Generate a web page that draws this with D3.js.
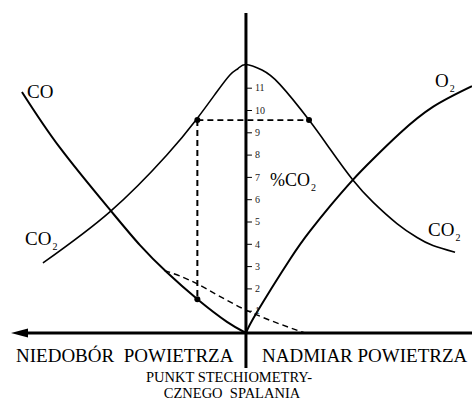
<!DOCTYPE html>
<html><head><meta charset="utf-8">
<script src="https://cdn.jsdelivr.net/npm/d3@7"></script>
<style>
html,body{margin:0;padding:0;background:#fff;overflow:hidden}
svg{display:block;font-family:"Liberation Serif","Times New Roman",serif}
</style></head><body>
<svg id="c" width="472" height="401"></svg>
<script>
// excess-air axis (arbitrary units, 0 = stoichiometric point), gas content in %
const coX  = [-9.91, -8.23, -6.02, -4.69, -3.5, -2.12, -0.84, 0];
const coY  = [10.81, 8.31, 5.53, 3.94, 2.72, 1.49, 0.5, 0];
const co2X = [-8.98, -6.02, -3.5, -2.21, -1.37, -0.71, -0.35, 0, 0.71, 1.5, 2.79, 3.72, 4.73, 5.62, 6.68, 7.57, 8.27, 9.25];
const co2Y = [3.14, 5.43, 7.98, 9.55, 10.7, 11.57, 11.86, 12.04, 11.79, 11.15, 9.55, 8.25, 6.86, 5.87, 4.91, 4.28, 3.92, 3.62];
const o2X  = [0, 0.49, 1.95, 2.83, 3.72, 4.73, 5.58, 6.81, 8.27, 10];
const o2Y  = [0, 0.94, 3.31, 4.57, 5.69, 6.87, 7.76, 8.96, 10.14, 11.07];
const extX = [-3.6, -2.15, 0, 2.61];          // dashed CO extension
const extY = [2.8, 2.2, 1.03, 0];
const markX = [-2.15, 2.79, -2.15];           // marked points
const markY = [9.55, 9.55, 1.51];
const tickValues = [1,2,3,4,5,6,7,8,9,10,11];
const leftLabel = "NIEDOBÓR  POWIETRZA";
const rightLabel = "NADMIAR POWIETRZA";
const noteLines = ["PUNKT STECHIOMETRY-", "CZNEGO  SPALANIA"];

const svg = d3.select("#c");
const x = d3.scaleLinear().domain([-10.35, 10]).range([12, 472]);
const y = d3.scaleLinear().domain([0, 12]).range([333, 333 - 12*22.3]);
const line = d3.line().x(d => x(d[0])).y(d => y(d[1])).curve(d3.curveNatural);
const zip = (a, b) => a.map((v, i) => [v, b[i]]);

// curves
svg.append("path").attr("d", line(zip(co2X, co2Y))).attr("fill","none").attr("stroke","#000").attr("stroke-width",1.6);
svg.append("path").attr("d", line(zip(coX, coY))).attr("fill","none").attr("stroke","#000").attr("stroke-width",2);
svg.append("path").attr("d", line(zip(o2X, o2Y))).attr("fill","none").attr("stroke","#000").attr("stroke-width",2);
svg.append("path").attr("d", line(zip(extX, extY))).attr("fill","none").attr("stroke","#000").attr("stroke-width",1.4).attr("stroke-dasharray","6,4");

// dashed guide lines
svg.append("line").attr("x1", x(markX[0])).attr("x2", x(markX[1])).attr("y1", y(markY[0])).attr("y2", y(markY[1]))
  .attr("stroke","#000").attr("stroke-width",1.8).attr("stroke-dasharray","6,4");
svg.append("line").attr("x1", x(markX[0])).attr("x2", x(markX[2])).attr("y1", y(markY[0])).attr("y2", y(markY[2]))
  .attr("stroke","#000").attr("stroke-width",2).attr("stroke-dasharray","6,4");
svg.selectAll("circle.m").data(zip(markX, markY)).join("circle").attr("class","m")
  .attr("cx", d => x(d[0])).attr("cy", d => y(d[1])).attr("r", 3).attr("fill","#000");

// horizontal axis with arrow
svg.append("line").attr("x1", 24).attr("x2", 472).attr("y1", y(0)).attr("y2", y(0)).attr("stroke","#000").attr("stroke-width",3);
svg.append("path").attr("d", `M11,${y(0)} L28,${y(0)-4.5} L28,${y(0)+4.5} Z`).attr("fill","#000");

// vertical axis
svg.append("line").attr("x1", x(0)).attr("x2", x(0)).attr("y1", 13).attr("y2", 368).attr("stroke","#000").attr("stroke-width",3);
const ax = svg.append("g").attr("transform", `translate(${x(0)},0)`)
  .call(d3.axisRight(y).tickValues(tickValues).tickSize(6).tickPadding(3).tickFormat(d3.format("d")));
ax.select(".domain").remove();
ax.selectAll(".tick line").attr("stroke","#000").attr("stroke-width",1);
ax.selectAll(".tick text").attr("font-family","Liberation Serif, serif").attr("font-size",10).attr("fill","#222");

// labels
function label(xp, yp, main, sub, size) {
  const t = svg.append("text").attr("x", xp).attr("y", yp).attr("font-size", size).attr("fill","#000");
  t.append("tspan").text(main);
  if (sub) t.append("tspan").attr("dx", 1).attr("dy", 5).attr("font-size", 10).text(sub);
}
label(27, 98, "CO", null, 19);
label(25, 245, "CO", "2", 19);
label(435, 87, "O", "2", 19);
label(428, 236, "CO", "2", 19);
label(270, 186, "%CO", "2", 18);

svg.append("text").attr("x", 16).attr("y", 362).attr("font-size", 19).style("white-space","pre").text(leftLabel);
svg.append("text").attr("x", 262).attr("y", 362).attr("font-size", 19).text(rightLabel);
svg.selectAll("text.note").data(noteLines).join("text").attr("class","note")
  .attr("x", (d, i) => i ? 232 : 229).attr("y", (d, i) => 382 + i*16).attr("text-anchor","middle")
  .attr("font-size", 14.5).style("white-space","pre").text(d => d);
</script></body></html>
